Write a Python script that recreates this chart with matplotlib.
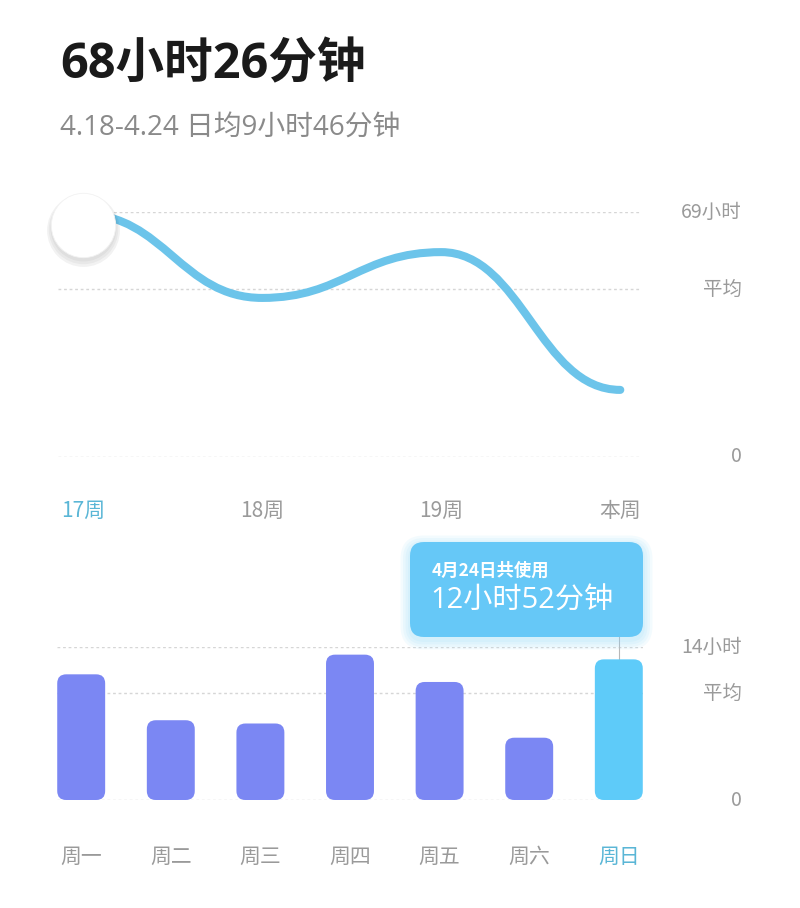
import numpy as np
import matplotlib
matplotlib.use("Agg")
import matplotlib.pyplot as plt
from matplotlib.path import Path
from matplotlib.patches import PathPatch, FancyBboxPatch
from matplotlib.transforms import blended_transform_factory

plt.rcParams['font.family'] = ['Noto Sans CJK SC', 'DejaVu Sans']
wide = ['Open Sans', 'Noto Sans CJK SC']

# data
title = "68小时26分钟"
subtitle = "4.18-4.24 日均9小时46分钟"

week_labels = ["17周", "18周", "19周", "本周"]
week_hours = [68.4, 44.8, 57.7, 18.9]
week_max = 69
week_avg = 47.3

day_labels = ["周一", "周二", "周三", "周四", "周五", "周六", "周日"]
day_hours = [11.5, 7.3, 7.0, 13.3, 10.8, 5.7, 12.87]
day_max = 14
day_avg = 9.77

tip_small = "4月24日共使用"
tip_big = "12小时52分钟"

W, H = 800, 908
fig = plt.figure(figsize=(W / 100, H / 100), dpi=100)
fig.patch.set_facecolor("white")

def frac(x0, y0, x1, y1):
    # pixel box (top-left origin) -> figure fraction rect
    return [x0 / W, 1 - y1 / H, (x1 - x0) / W, (y1 - y0) / H]

grid_kw = dict(color="#d6d6d6", lw=1, linestyle=(0, (2, 2)), zorder=0)
gray = "#9a9a9a"
blue_txt = "#5ab6d6"

fig.text(60 / W, 1 - 66 / H, title, fontsize=35, fontweight="bold",
         family=wide, color="#1a1a1a", va="center", ha="left")
fig.text(60 / W, 1 - 129 / H, subtitle, fontsize=20, color="#8a8a8a",
         family=wide, va="center", ha="left")

# ---- weekly line chart ----
ax1 = fig.add_axes(frac(58, 212, 640, 457))
ax1.set_xlim(-0.14, 3.11)
ax1.set_ylim(0, week_max)
ax1.axis("off")
for yv in [0, week_avg, week_max]:
    ax1.axhline(yv, **grid_kw)

xs = np.arange(len(week_hours))
verts = [(xs[0], week_hours[0])]
codes = [Path.MOVETO]
for i in range(len(xs) - 1):
    h = 0.45
    verts += [(xs[i] + h, week_hours[i]), (xs[i + 1] - h, week_hours[i + 1]),
              (xs[i + 1], week_hours[i + 1])]
    codes += [Path.CURVE4] * 3
ax1.add_patch(PathPatch(Path(verts, codes), fill=False, edgecolor="#6cc4ea",
                        lw=5.8, capstyle="round", joinstyle="round", zorder=3))

# selected point marker with soft shadow
cy = week_hours[0] - 3
for k, a in enumerate([0.04, 0.04, 0.05]):
    ax1.scatter([xs[0]], [cy - 0.8 - 0.4 * k], s=2250 + 250 * k,
                color="#000000", alpha=a, lw=0, zorder=4, clip_on=False)
ax1.scatter([xs[0]], [cy], s=2150, color="white",
            edgecolor="#f2f2f2", lw=0.6, zorder=5, clip_on=False)

for i, lab in enumerate(week_labels):
    ax1.text(xs[i], -15.3, lab, fontsize=15, ha="center", va="center",
             color=blue_txt if i == 0 else gray)

tr1 = blended_transform_factory(fig.transFigure, ax1.transData)
for yv, lab in [(week_max, "69小时"), (week_avg, "平均"), (0, "0")]:
    ax1.text(742 / W, yv, lab, transform=tr1, fontsize=14, ha="right",
             va="center", color=gray)

# ---- daily bar chart ----
ax2 = fig.add_axes(frac(57, 647, 643, 800))
ax2.set_xlim(-0.27, 6.27)
ax2.set_ylim(0, day_max)
ax2.axis("off")
for yv in [0, day_avg, day_max]:
    ax2.axhline(yv, **grid_kw)

colors = ["#7b87f3"] * 6 + ["#5ecbf9"]
bars = ax2.bar(np.arange(len(day_hours)), day_hours, width=0.535, color=colors)

# round the bar corners
fig.canvas.draw()
p0 = ax2.transData.transform((0, 0))
p1 = ax2.transData.transform((1, 1))
aspect = (p1[0] - p0[0]) / (p1[1] - p0[1])
rad = 9 / (p1[0] - p0[0])
for b, c in zip(bars, colors):
    x, y = b.get_x(), b.get_y()
    w, hgt = b.get_width(), b.get_height()
    b.remove()
    ax2.add_patch(FancyBboxPatch((x, y), w, hgt,
                                 boxstyle=f"round,pad=0,rounding_size={rad}",
                                 mutation_aspect=aspect, facecolor=c,
                                 edgecolor="none", zorder=2))

for i, lab in enumerate(day_labels):
    ax2.text(i, -5.2, lab, fontsize=15, ha="center", va="center",
             color=blue_txt if i == len(day_labels) - 1 else gray)

tr2 = blended_transform_factory(fig.transFigure, ax2.transData)
for yv, lab in [(day_max, "14小时"), (day_avg, "平均"), (0, "0")]:
    ax2.text(742 / W, yv, lab, transform=tr2, fontsize=14, ha="right",
             va="center", color=gray)

# connector from the tooltip to the selected bar
sel = len(day_hours) - 1
ax2.plot([sel, sel], [day_hours[sel], 14.9], color="#b8b8b8", lw=0.8,
         zorder=1, clip_on=False)

# tooltip box
tx0, ty0, tx1, ty1 = 410, 542, 643, 637
ma = W / H
for k in range(4):
    g = 2 + 2.5 * k
    fig.patches.append(FancyBboxPatch(
        ((tx0 - g) / W, 1 - (ty1 + g + 3) / H), (tx1 - tx0 + 2 * g) / W,
        (ty1 - ty0 + 2 * g) / H,
        boxstyle=f"round,pad=0,rounding_size={(14 + g) / W}",
        mutation_aspect=ma, facecolor="#8fd8fb", alpha=0.10, edgecolor="none",
        transform=fig.transFigure, zorder=5))
fig.patches.append(FancyBboxPatch(
    (tx0 / W, 1 - ty1 / H), (tx1 - tx0) / W, (ty1 - ty0) / H,
    boxstyle=f"round,pad=0,rounding_size={14 / W}", mutation_aspect=ma,
    facecolor="#66c8f7", edgecolor="none", transform=fig.transFigure,
    zorder=6))
fig.text(432 / W, 1 - 571 / H, tip_small, fontsize=12.5, color="white",
         fontweight="bold", va="center", ha="left", zorder=7)
fig.text(430 / W, 1 - 601 / H, tip_big, fontsize=21, color="white",
         fontweight="medium", family=wide, va="center", ha="left", zorder=7)

fig.savefig("out.png", dpi=100, facecolor="white")
